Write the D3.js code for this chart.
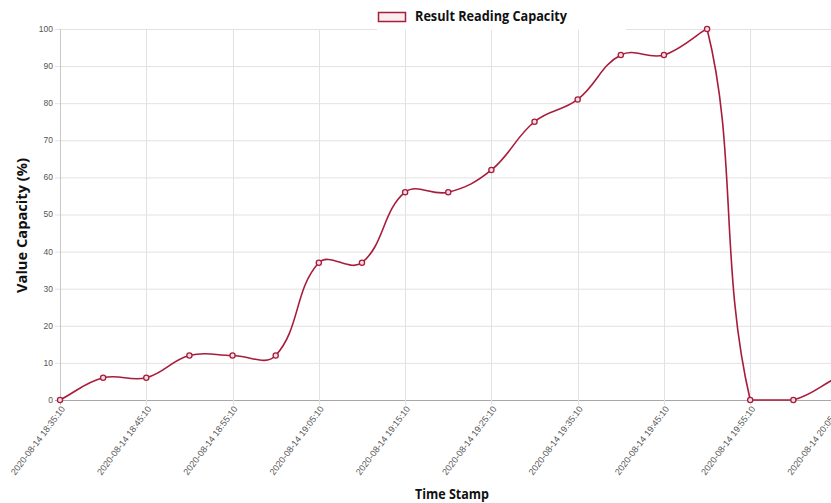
<!DOCTYPE html>
<html>
<head>
<meta charset="utf-8">
<script src="https://cdn.jsdelivr.net/npm/d3@7"></script>
<style>
  html, body { margin: 0; padding: 0; background: #fff; overflow: hidden; }
  #chart svg { display: block; }
</style>
</head>
<body>
<div id="chart"></div>
<script>
// readings every 5 minutes
const timeLabels = [
  "2020-08-14 18:35:10", "2020-08-14 18:40:10", "2020-08-14 18:45:10",
  "2020-08-14 18:50:10", "2020-08-14 18:55:10", "2020-08-14 19:00:10",
  "2020-08-14 19:05:10", "2020-08-14 19:10:10", "2020-08-14 19:15:10",
  "2020-08-14 19:20:10", "2020-08-14 19:25:10", "2020-08-14 19:30:10",
  "2020-08-14 19:35:10", "2020-08-14 19:40:10", "2020-08-14 19:45:10",
  "2020-08-14 19:50:10", "2020-08-14 19:55:10", "2020-08-14 20:00:10",
  "2020-08-14 20:05:10"
];
const capacityValues = [0, 6, 6, 12, 12, 12, 37, 37, 56, 56, 62, 75, 81, 93, 93, 100, 0, 0, 6];
const yTicks = [0, 10, 20, 30, 40, 50, 60, 70, 80, 90, 100];
const seriesName = "Result Reading Capacity";

const width = 831, height = 503;
const area = { left: 60, right: 836.5, top: 29, bottom: 400 };
const lineColor = "#a81c3b";

const svg = d3.select("#chart").append("svg")
  .attr("width", width)
  .attr("height", height);

const x = d3.scalePoint()
  .domain(timeLabels)
  .range([area.left, area.right]);

const y = d3.scaleLinear()
  .domain([0, 100])
  .range([area.bottom, area.top]);

// grille horizontale
svg.append("g")
  .selectAll("line")
  .data(yTicks)
  .enter().append("line")
  .attr("x1", area.left - 5)
  .attr("x2", area.right)
  .attr("y1", d => y(d) + 0.5)
  .attr("y2", d => y(d) + 0.5)
  .attr("stroke", d => d === 0 ? "#a8a8a8" : "#e2e2e2")
  .attr("stroke-width", 1);

// grille verticale (une étiquette sur deux)
const xTicks = timeLabels.filter((d, i) => i % 2 === 0);
svg.append("g")
  .selectAll("line")
  .data(xTicks)
  .enter().append("line")
  .attr("x1", d => Math.round(x(d)) + 0.5)
  .attr("x2", d => Math.round(x(d)) + 0.5)
  .attr("y1", area.top)
  .attr("y2", area.bottom + 5)
  .attr("stroke", (d, i) => i === 0 ? "#c8c8c8" : "#e2e2e2")
  .attr("stroke-width", 1);

// white box behind the legend
svg.append("rect")
  .attr("x", 377)
  .attr("y", 0)
  .attr("width", 249)
  .attr("height", 30)
  .attr("fill", "#fff");

// y tick labels
svg.append("g")
  .selectAll("text")
  .data(yTicks)
  .enter().append("text")
  .attr("x", area.left - 7)
  .attr("y", d => y(d))
  .attr("dy", "0.35em")
  .attr("text-anchor", "end")
  .style("font-family", "'Liberation Sans', Arial, sans-serif")
  .style("font-size", "8.5px")
  .attr("fill", "#555")
  .text(d => d);

// x tick labels
svg.append("g")
  .selectAll("text")
  .data(xTicks)
  .enter().append("text")
  .attr("transform", d => `translate(${x(d) + 3},${area.bottom + 7}) rotate(-53)`)
  .attr("dy", "0.35em")
  .attr("text-anchor", "end")
  .style("font-family", "'Liberation Sans', Arial, sans-serif")
  .style("font-size", "9px")
  .attr("fill", "#555")
  .text(d => d);

// courbe façon Chart.js (tension 0.4)
const pts = capacityValues.map((v, i) => ({ x: x(timeLabels[i]), y: y(v) }));
const tension = 0.4;
const clamp = (v, a, b) => Math.max(a, Math.min(b, v));
pts.forEach((cur, i) => {
  const prev = pts[i - 1] || cur;
  const next = pts[i + 1] || cur;
  const d01 = Math.hypot(cur.x - prev.x, cur.y - prev.y);
  const d12 = Math.hypot(next.x - cur.x, next.y - cur.y);
  let s01 = d01 / (d01 + d12), s12 = d12 / (d01 + d12);
  if (isNaN(s01)) s01 = 0;
  if (isNaN(s12)) s12 = 0;
  const fa = tension * s01, fb = tension * s12;
  cur.cpPrev = {
    x: clamp(cur.x - fa * (next.x - prev.x), area.left, area.right),
    y: clamp(cur.y - fa * (next.y - prev.y), area.top, area.bottom)
  };
  cur.cpNext = {
    x: clamp(cur.x + fb * (next.x - prev.x), area.left, area.right),
    y: clamp(cur.y + fb * (next.y - prev.y), area.top, area.bottom)
  };
});

const path = d3.path();
path.moveTo(pts[0].x, pts[0].y);
for (let i = 1; i < pts.length; i++) {
  const a = pts[i - 1], b = pts[i];
  path.bezierCurveTo(a.cpNext.x, a.cpNext.y, b.cpPrev.x, b.cpPrev.y, b.x, b.y);
}

svg.append("path")
  .attr("d", path.toString())
  .attr("fill", "none")
  .attr("stroke", lineColor)
  .attr("stroke-width", 1.6);

// points
svg.append("g")
  .selectAll("circle")
  .data(pts)
  .enter().append("circle")
  .attr("cx", d => d.x)
  .attr("cy", d => d.y)
  .attr("r", 2.6)
  .attr("fill", "#f6dde2")
  .attr("stroke", lineColor)
  .attr("stroke-width", 1.3);

// legend
svg.append("rect")
  .attr("x", 378.5)
  .attr("y", 12.5)
  .attr("width", 27)
  .attr("height", 9)
  .attr("fill", "#fbeef0")
  .attr("stroke", lineColor)
  .attr("stroke-width", 1.5);

const titleFont = "'Open Sans', 'Noto Sans', sans-serif";

svg.append("text")
  .attr("x", 415)
  .attr("y", 21)
  .attr("textLength", 152)
  .attr("lengthAdjust", "spacingAndGlyphs")
  .style("font-family", titleFont)
  .style("font-weight", "700")
  .style("font-size", "13.5px")
  .attr("fill", "#111")
  .text(seriesName);

// titres des axes
svg.append("text")
  .attr("x", 415)
  .attr("y", 499)
  .attr("textLength", 74)
  .attr("lengthAdjust", "spacingAndGlyphs")
  .style("font-family", titleFont)
  .style("font-weight", "700")
  .style("font-size", "14px")
  .attr("fill", "#111")
  .text("Time Stamp");

svg.append("text")
  .attr("transform", "translate(27,225.5) rotate(-90)")
  .attr("text-anchor", "middle")
  .attr("textLength", 135)
  .attr("lengthAdjust", "spacingAndGlyphs")
  .style("font-family", titleFont)
  .style("font-weight", "700")
  .style("font-size", "14px")
  .attr("fill", "#111")
  .text("Value Capacity (%)");
</script>
</body>
</html>
